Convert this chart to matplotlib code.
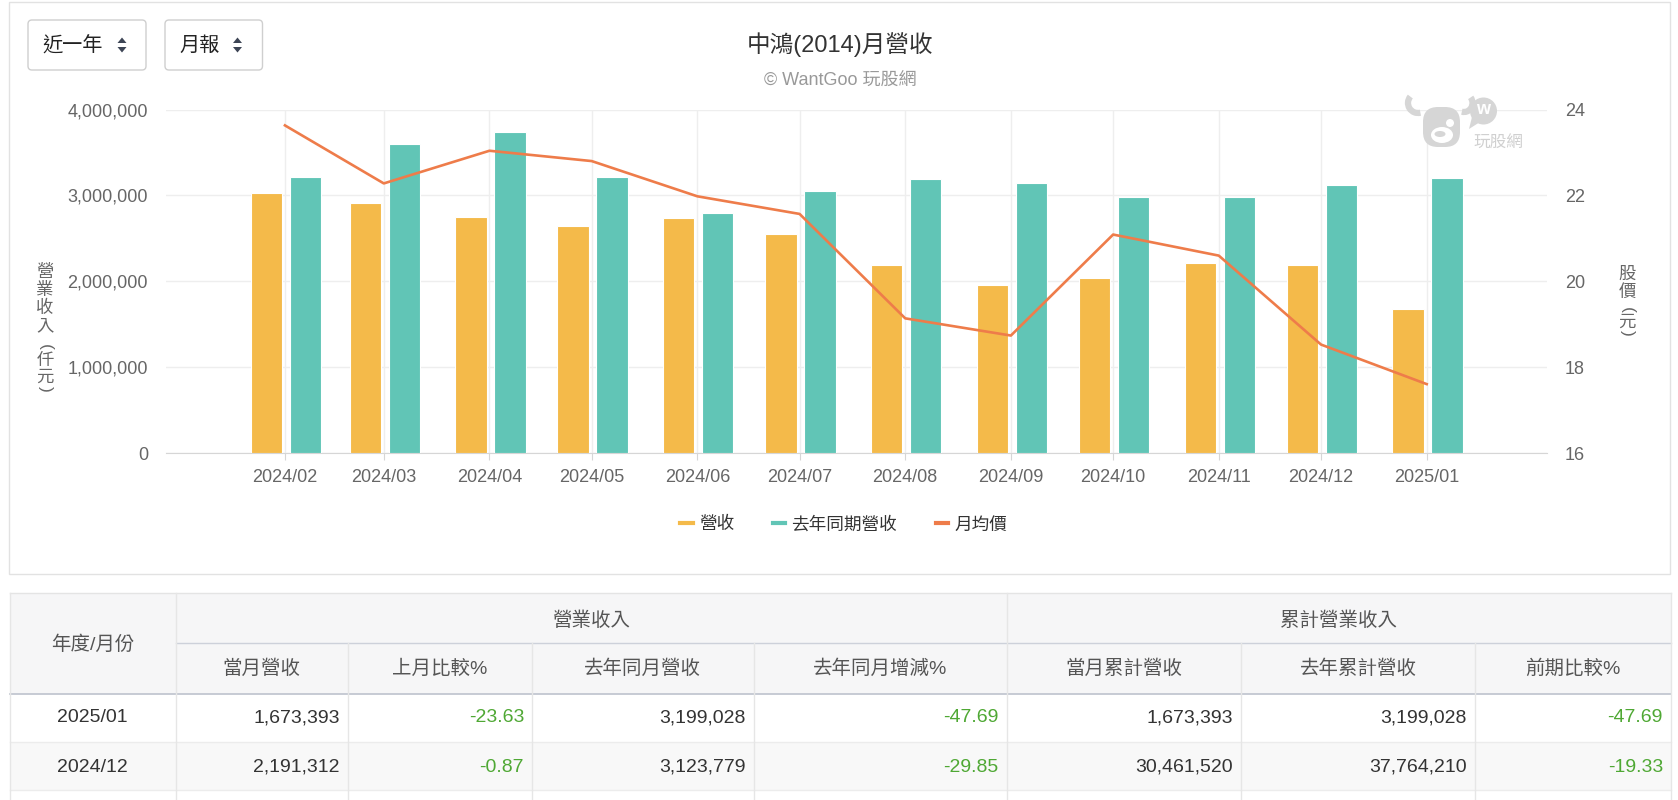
import datetime as dt
import numpy as np
import matplotlib
matplotlib.use('Agg')
import matplotlib.pyplot as plt
import matplotlib.dates as mdates
from matplotlib.patches import FancyBboxPatch, Rectangle, Polygon, Ellipse, Circle, Arc
from matplotlib.lines import Line2D
from matplotlib.ticker import FuncFormatter

plt.rcParams['font.family'] = ['Liberation Sans', 'Noto Sans CJK TC']

# ---------------- data ----------------
months = ['2024-02', '2024-03', '2024-04', '2024-05', '2024-06', '2024-07',
          '2024-08', '2024-09', '2024-10', '2024-11', '2024-12', '2025-01']
revenue = [3030000, 2915000, 2755000, 2650000, 2740000, 2550000,
           2185000, 1955000, 2045000, 2210500, 2191312, 1673393]
revenue_last_year = [3210000, 3595000, 3735000, 3210000, 2790000, 3055000,
                     3195000, 3140000, 2985000, 2985000, 3123779, 3199028]
avg_price = [23.63, 22.28, 23.04, 22.80, 21.98, 21.57,
             19.14, 18.74, 21.09, 20.60, 18.53, 17.61]

series_names = ['營收', '去年同期營收', '月均價']
title = '中鴻(2014)月營收'
subtitle = '© WantGoo 玩股網'

table_group_headers = ['營業收入', '累計營業收入']
table_col_headers = ['當月營收', '上月比較%', '去年同月營收', '去年同月增減%',
                     '當月累計營收', '去年累計營收', '前期比較%']
table_months = ['2025/01', '2024/12']
table_rows = [
    ['1,673,393', '-23.63', '3,199,028', '-47.69', '1,673,393', '3,199,028', '-47.69'],
    ['2,191,312', '-0.87', '3,123,779', '-29.85', '30,461,520', '37,764,210', '-19.33'],
]

ORANGE = '#F4BA4A'
TEAL = '#61C5B6'
LINEC = '#EE7C4A'
GRID = '#EEEEEE'
TICKC = '#666666'

W, H = 1678, 800
fig = plt.figure(figsize=(W / 100, H / 100), dpi=100)
fig.patch.set_facecolor('white')

# ---------------- chart ----------------
ax = fig.add_axes([166 / W, 1 - 453.3 / H, 1381 / W, 343.8 / H])
dates = [dt.date(int(m[:4]), int(m[5:]), 1) for m in months]
x = mdates.date2num(dates)

ax.bar(x - 5.45, revenue, width=9.2, color=ORANGE, edgecolor='white',
       linewidth=0.8, zorder=3)
ax.bar(x + 6.0, revenue_last_year, width=9.2, color=TEAL, edgecolor='white',
       linewidth=0.8, zorder=3)
ax.set_xlim(x[0] - 34.9, x[-1] + 35.3)
ax.set_ylim(0, 4e6)
ax.set_yticks(np.arange(0, 4.01e6, 1e6))
ax.yaxis.set_major_formatter(FuncFormatter(lambda v, p: f'{int(v):,}'))
ax.set_xticks(x)
ax.xaxis.set_major_formatter(mdates.DateFormatter('%Y/%m'))
ax.grid(True, color=GRID, lw=1)
ax.set_axisbelow(True)
for s in ['top', 'right', 'left']:
    ax.spines[s].set_visible(False)
ax.spines['bottom'].set_color('#d6d6d6')
ax.tick_params(axis='y', length=0, pad=13, labelsize=13, labelcolor=TICKC)
ax.tick_params(axis='x', length=5, color='#d6d6d6', pad=6, labelsize=13,
               labelcolor=TICKC)

ax2 = ax.twinx()
ax2.plot(x, avg_price, color=LINEC, lw=1.9, zorder=4, solid_joinstyle='round')
ax2.set_ylim(16, 24)
ax2.set_yticks([16, 18, 20, 22, 24])
for s in ax2.spines.values():
    s.set_visible(False)
ax2.tick_params(axis='y', length=0, pad=13, labelsize=13, labelcolor=TICKC)

handles = [Line2D([0], [0], color=ORANGE, lw=3),
           Line2D([0], [0], color=TEAL, lw=3),
           Line2D([0], [0], color=LINEC, lw=3)]
fig.legend(handles, series_names, loc='center', bbox_to_anchor=(844 / W, 1 - 525 / H),
           ncol=3, frameon=False, handlelength=0.7, handletextpad=0.35,
           columnspacing=2.2, fontsize=12.7, labelcolor='#333333')

# ---------------- overlay (page elements) ----------------
ov = fig.add_axes([0, 0, 1, 1], zorder=10)
ov.set_xlim(0, W)
ov.set_ylim(H, 0)
ov.axis('off')
ov.patch.set_alpha(0)

# chart card
ov.add_patch(Rectangle((8.5, 1.5), 1661.5, 572.5, fill=False, ec='#e2e2e2', lw=1))

# selector buttons
def button(x0, w, label, text_x, icon_x):
    ov.add_patch(FancyBboxPatch((x0, 20), w, 50, boxstyle='round,pad=0,rounding_size=4',
                                fc='white', ec='#cfcfcf', lw=1))
    ov.text(text_x, 45.5, label, ha='left', va='center', fontsize=14.5, color='#222222')
    ov.add_patch(Polygon([(icon_x - 4.5, 43), (icon_x + 4.5, 43), (icon_x, 37.5)],
                         closed=True, fc='#3d4555', ec='none'))
    ov.add_patch(Polygon([(icon_x - 4.5, 47), (icon_x + 4.5, 47), (icon_x, 52.5)],
                         closed=True, fc='#3d4555', ec='none'))

button(28, 118, '近一年', 42, 122)
button(165, 97.5, '月報', 179, 237.5)

# title / subtitle
ov.text(840, 45, title, ha='center', va='center', fontsize=17, color='#333333')
ov.text(840, 80, subtitle, ha='center', va='center', fontsize=13, color='#999999')

# vertical axis titles (upright characters)
def vlabel(xc, items):
    for ch, yc in items:
        rot = -90 if ch in '()' else 0
        ov.text(xc, yc, ch, ha='center', va='center', fontsize=12.5, color='#666666',
                rotation=rot)

vlabel(45, [('營', 272), ('業', 290), ('收', 308), ('入', 327), ('(', 347),
            ('仟', 360), ('元', 377), (')', 389)])
vlabel(1627, [('股', 274.5), ('價', 292), ('(', 310), ('元', 322), (')', 333)])

# watermark logo
LG = '#d6d6d6'
ov.add_patch(Arc((1418, 103), 20, 20, theta1=76, theta2=220, lw=4.5, color=LG))
ov.add_patch(Arc((1464, 103), 17, 18, theta1=-40, theta2=104, lw=4.5, color=LG))
ov.add_patch(FancyBboxPatch((1423, 107), 37, 40,
                            boxstyle='round,pad=0,rounding_size=15', fc=LG, ec='none'))
ov.add_patch(Ellipse((1442, 135), 22, 16, fc='white', ec='none'))
ov.add_patch(Ellipse((1440, 134), 11, 6, fc=LG, ec='none'))
ov.add_patch(Circle((1450, 123), 4, fc='white', ec='none'))
ov.add_patch(Polygon([(1472, 117), (1480, 122), (1469, 129)], closed=True, fc=LG,
                     ec='none'))
ov.add_patch(Circle((1483.5, 111), 13.5, fc=LG, ec='none'))
ov.text(1483.5, 110, 'w', ha='center', va='center', fontsize=13, color='white',
        fontweight='bold')
ov.text(1498.5, 142.5, '玩股網', ha='center', va='center', fontsize=12, color='#d0d0d0')

# ---------------- table ----------------
TL, TR = 9.6, 1671
col_edges = [175.7, 348, 532, 753.6, 1006.8, 1241, 1475, 1671]
y_top, y_mid, y_head, y_r1, y_r2 = 593, 643, 694.3, 742.3, 790

ov.add_patch(Rectangle((TL, y_top), TR - TL, y_head - y_top, fc='#f6f6f7', ec='none'))
ov.add_patch(Rectangle((TL, y_r1), TR - TL, y_r2 - y_r1, fc='#f8f8f8', ec='none'))
ov.plot([TL, TR], [y_top, y_top], color='#e4e4e4', lw=1)
ov.plot([col_edges[0], TR], [y_mid, y_mid], color='#cdd1da', lw=1)
ov.plot([TL, TR], [y_head, y_head], color='#c3c7d1', lw=1.3)
ov.plot([TL, TR], [y_r1, y_r1], color='#ececec', lw=1)
ov.plot([TL, TR], [y_r2, y_r2], color='#ececec', lw=1)
for xe in [TL, col_edges[0], col_edges[4], TR]:
    ov.plot([xe, xe], [y_top, H], color='#e6e6e6', lw=1)
for xe in [col_edges[1], col_edges[2], col_edges[3], col_edges[5], col_edges[6]]:
    ov.plot([xe, xe], [y_mid, H], color='#e6e6e6', lw=1)

HC = '#555555'
ov.text((TL + col_edges[0]) / 2, 645, '年度/月份', ha='center', va='center',
        fontsize=14, color=HC)
ov.text((col_edges[0] + col_edges[4]) / 2, 621, table_group_headers[0], ha='center',
        va='center', fontsize=14, color=HC)
ov.text((col_edges[4] + col_edges[7]) / 2, 621, table_group_headers[1], ha='center',
        va='center', fontsize=14, color=HC)
for i, h in enumerate(table_col_headers):
    ov.text((col_edges[i] + col_edges[i + 1]) / 2, 669, h, ha='center', va='center',
            fontsize=14, color=HC)

for r, (m, row) in enumerate(zip(table_months, table_rows)):
    yc = [718, 767][r]
    ov.text((TL + col_edges[0]) / 2, yc, m, ha='center', va='center', fontsize=14,
            color='#333333')
    for i, v in enumerate(row):
        c = '#4fa834' if v.startswith('-') else '#333333'
        ov.text(col_edges[i + 1] - 8, yc, v, ha='right', va='center', fontsize=14,
                color=c)

fig.savefig('out.png', dpi=100, facecolor='white')
